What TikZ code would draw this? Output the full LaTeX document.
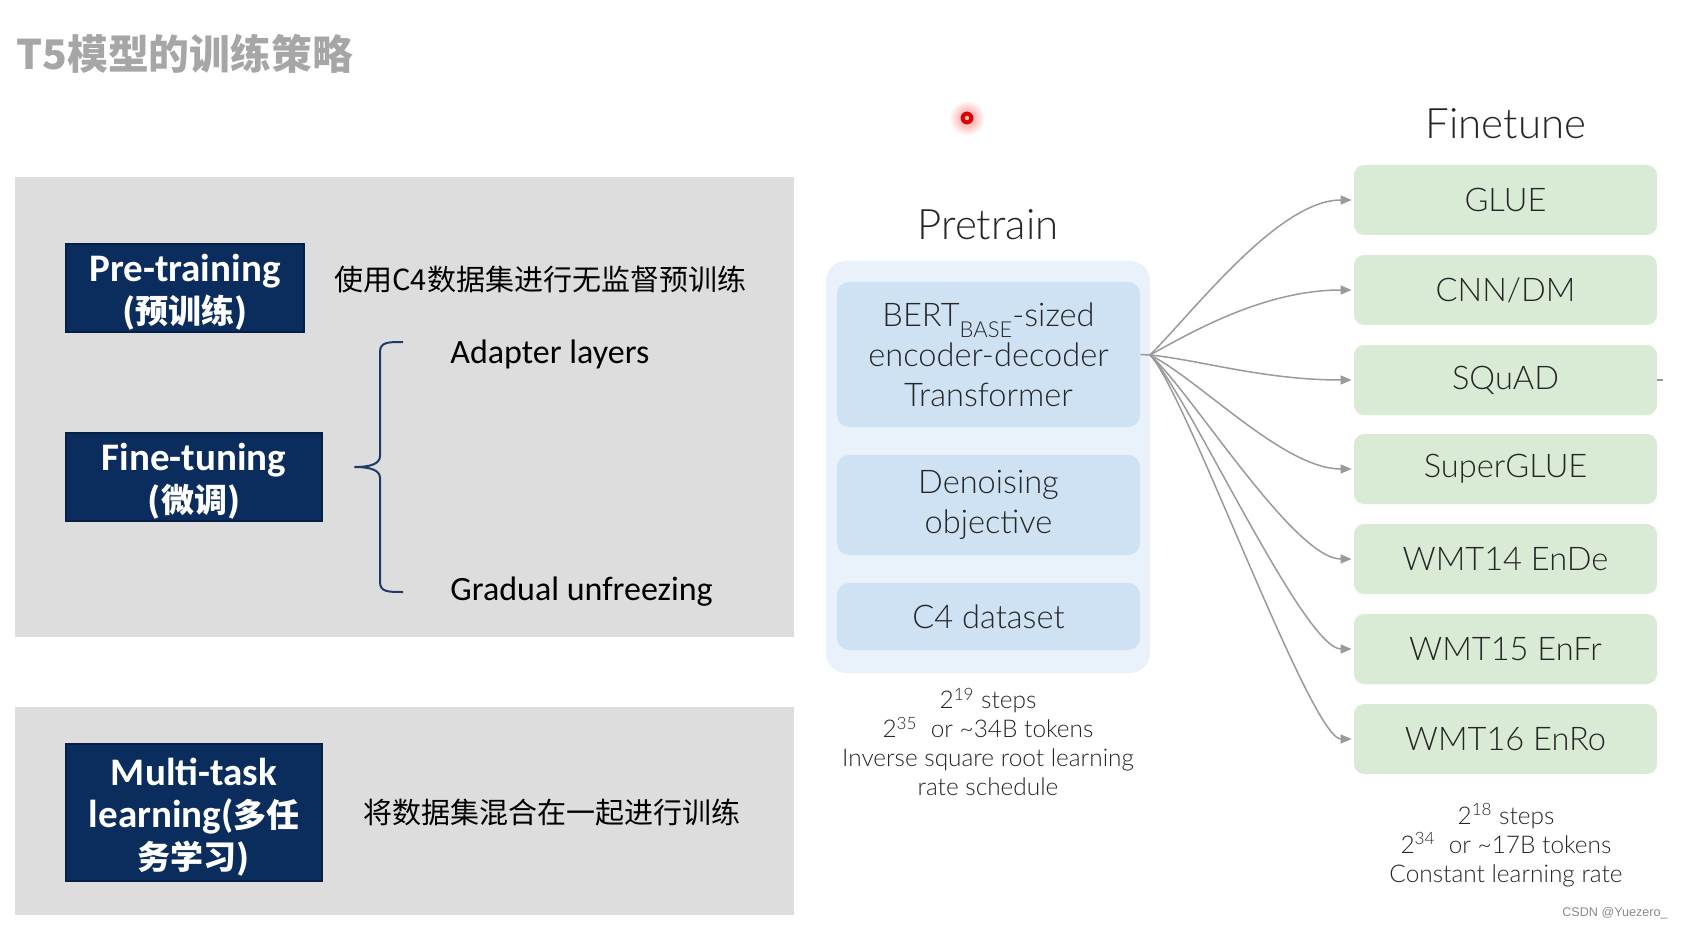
\documentclass[tikz,border=0pt]{standalone}
\usepackage{fontspec}
\setmainfont{Lato}
\newfontfamily\cjk{Noto Sans CJK SC}
\newfontfamily\carl{Carlito}
\newfontfamily\lato{Lato Light}
\newfontfamily\wmfont{Liberation Sans}
\usetikzlibrary{arrows.meta}
\definecolor{panelgray}{HTML}{DDDDDD}
\definecolor{navy}{HTML}{0A2D5E}
\definecolor{navyedge}{HTML}{061F45}
\definecolor{bracecol}{HTML}{1F3A68}
\definecolor{titlegray}{HTML}{A6A6A6}
\definecolor{outerblue}{HTML}{E9F1FA}
\definecolor{innerblue}{HTML}{CFE2F3}
\definecolor{ftgreen}{HTML}{D9EBD5}
\definecolor{txtdark}{HTML}{262626}
\definecolor{arrowgray}{HTML}{9A9A9A}
\definecolor{wmgray}{HTML}{8A8A8A}
\newcommand\bxfnt{\fontsize{19.5pt}{21pt}\selectfont\bfseries}
\newcommand\bxcjk{\cjk\fontsize{16.5pt}{21pt}\selectfont}
\newcommand\lbfnt{\lato\fontsize{16.3pt}{20pt}\selectfont}
\newcommand\smfnt{\lato\fontsize{12.2pt}{14.5pt}\selectfont}
\begin{document}
\begin{tikzpicture}[x=0.5pt,y=-0.5pt,
  panel/.style={fill=panelgray, draw=none, inner sep=0, minimum width=389.5pt},
  navybox/.style={fill=navy, draw=navyedge, line width=0.6pt, inner sep=0},
  navytext/.style={text=white, inner sep=0, align=center, font=\bxfnt},
  cntext/.style={anchor=west, inner sep=0, text=black, font=\cjk\fontsize{14.5pt}{16pt}\selectfont},
  entext/.style={anchor=west, inner sep=0, text=black, font=\carl\fontsize{17pt}{19pt}\selectfont},
  bluebox/.style={fill=innerblue, rounded corners=6pt, inner sep=0, minimum width=151.5pt,
    align=center, text=txtdark, font=\lbfnt},
  greenbox/.style={fill=ftgreen, rounded corners=5pt, inner sep=0, minimum width=151.5pt,
    minimum height=35pt, text=txtdark, font=\lbfnt},
  headtext/.style={inner sep=0, text=txtdark, font=\lato\fontsize{21pt}{24pt}\selectfont},
  notetext/.style={inner sep=0, align=center, text=txtdark, font=\smfnt},
  fanarrow/.style={draw=arrowgray, line width=0.75pt, shorten >=1pt,
    -{Triangle[length=5.5pt,width=4.5pt]}}
]
\path[use as bounding box, fill=white] (0,0) rectangle (1684,930);

% title
\node[anchor=west, inner sep=0, text=titlegray, font=\cjk\bfseries\fontsize{20.4pt}{23pt}\selectfont] (title) at (16,54) {T5模型的训练策略};

% left panels
\node[panel, minimum height=230pt] (panelA) at (404.5,407) {};
\node[panel, minimum height=104pt] (panelB) at (404.5,811) {};

\node[navybox, minimum width=119pt, minimum height=44pt] (pre) at (185,288) {};
\node[navytext] (preText) at ([yshift=-2.2pt]pre.center)
  {\carl Pre-training\\{\bxcjk\bfseries (预训练)}};
\node[navybox, minimum width=128pt, minimum height=44pt] (fine) at (194,477) {};
\node[navytext] (fineText) at ([yshift=-2.2pt]fine.center)
  {\carl Fine-tuning\\{\bxcjk\bfseries (微调)}};
\node[navybox, minimum width=128pt, minimum height=68.5pt] (multi) at (194,812.5) {};
\node[navytext] (multiText) at ([yshift=-2.4pt]multi.center)
  {\carl Multi-task\\\carl learning({\bxcjk\bfseries 多任}\\{\bxcjk\bfseries 务学习)}};

\node[cntext] (preDesc) at (334,279) {使用C4数据集进行无监督预训练};
\node[cntext] (multiDesc) at (363,813) {将数据集混合在一起进行训练};
\node[entext] (adapter) at (450,354) {Adapter layers};
\node[entext] (gradual) at (450,592) {Gradual unfreezing};

% brace
\coordinate (braceTop) at (403,342);
\coordinate (braceTip) at (355,467);
\coordinate (braceBot) at (403,592);
\draw[bracecol, line width=1pt, line join=round]
  (braceTop) .. controls (388,342) and (380,342) .. (380,352)
  -- (380,456) .. controls (380,464) and (370,467) .. (braceTip)
  .. controls (370,467) and (380,470) .. (380,478)
  -- (380,582) .. controls (380,592) and (388,592) .. (braceBot);

% pretrain block
\node[headtext] (pretrainLabel) at (988,225) {Pretrain};
\node[fill=outerblue, rounded corners=10pt, inner sep=0, minimum width=162pt, minimum height=206pt] (outer) at (988,467) {};
\node[bluebox, minimum height=72.5pt] (bert) at (988.5,354.5)
  {BERT\raisebox{-0.36em}{\fontsize{11pt}{11pt}\selectfont BASE}-sized\\encoder-decoder\\Transformer};
\node[bluebox, minimum height=50pt] (denoise) at (988.5,505) {Denoising\\objective};
\node[bluebox, minimum height=33.5pt] (c4) at (988.5,616.5) {C4 dataset};
\node[notetext] (preNote) at (988,742)
  {2\textsuperscript{19} steps\\2\textsuperscript{35}\ \ or \textasciitilde34B tokens\\Inverse square root learning\\rate schedule};

% finetune block
\node[headtext] (finetuneLabel) at (1506,124) {Finetune};
\node[greenbox] (glue) at (1505.5,200) {GLUE};
\node[greenbox] (cnn) at (1505.5,290) {CNN/DM};
\node[greenbox] (squad) at (1505.5,380) {SQuAD};
\node[greenbox] (superglue) at (1505.5,469) {SuperGLUE};
\node[greenbox] (wmtA) at (1505.5,559) {WMT14 EnDe};
\node[greenbox] (wmtB) at (1505.5,649) {WMT15 EnFr};
\node[greenbox] (wmtC) at (1505.5,739) {WMT16 EnRo};
\node[notetext] (ftNote) at (1506,845)
  {2\textsuperscript{18} steps\\2\textsuperscript{34}\ \ or \textasciitilde17B tokens\\Constant learning rate};

% fan of arrows
\coordinate (fan) at (1150,355);
\draw[arrowgray, line width=0.75pt] (bert.east) -- (fan);
\draw[fanarrow] (fan) .. controls +(45,-45) and +(-75,0) .. (glue.west);
\draw[fanarrow] (fan) .. controls +(40,-22) and +(-90,0) .. (cnn.west);
\draw[fanarrow] (fan) .. controls +(50,5) and +(-90,0) .. (squad.west);
\draw[fanarrow] (fan) .. controls +(50,25) and +(-70,0) .. (superglue.west);
\draw[fanarrow] (fan) .. controls +(40,35) and +(-60,0) .. (wmtA.west);
\draw[fanarrow] (fan) .. controls +(37,37) and +(-50,0) .. (wmtB.west);
\draw[fanarrow] (fan) .. controls +(35,35) and +(-43,0) .. (wmtC.west);

% small tick right of SQuAD
\coordinate (tickEnd) at (1663,380);
\draw[arrowgray, line width=0.8pt] (squad.east) -- (tickEnd);

% laser pointer dot
\coordinate (dot) at (967,118);
\shade[inner color=red!45, outer color=white] (dot) circle (9pt);
\fill[red!85!black] (dot) circle (3.2pt);
\fill[red!25] (dot) circle (1.1pt);

% watermark
\node[anchor=east, inner sep=0, text=wmgray, font=\wmfont\fontsize{6.3pt}{7pt}\selectfont] (wm) at (1668,913) {CSDN @Yuezero\_};
\end{tikzpicture}
\end{document}
